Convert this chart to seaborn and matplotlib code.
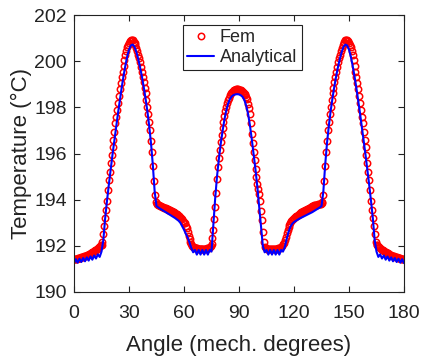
import numpy as np
import pandas as pd
import matplotlib
matplotlib.use("Agg")
import matplotlib.pyplot as plt
import seaborn as sns

# FEM temperature, sampled every 0.5 mechanical degree (0 .. 180)
fem_step = 0.5
fem_temp = [
    191.42, 191.43, 191.44, 191.45, 191.46, 191.47, 191.48, 191.49, 191.50, 191.51,
    191.53, 191.54, 191.56, 191.57, 191.59, 191.61, 191.63, 191.65, 191.67, 191.69,
    191.72, 191.75, 191.78, 191.81, 191.84, 191.87, 191.90, 191.94, 191.98, 192.02,
    192.05, 192.15, 192.50, 192.85, 193.20, 193.55, 193.95, 194.40, 194.85, 195.20,
    195.60, 195.95, 196.30, 196.60, 196.95, 197.30, 197.60, 197.90, 198.20, 198.50,
    198.80, 199.05, 199.30, 199.55, 199.80, 200.05, 200.25, 200.45, 200.60, 200.72,
    200.80, 200.87, 200.90, 200.92, 200.90, 200.85, 200.78, 200.68, 200.56, 200.43,
    200.28, 200.12, 199.95, 199.75, 199.55, 199.33, 199.10, 198.85, 198.60, 198.30,
    198.00, 197.70, 197.35, 197.00, 196.55, 196.05, 195.45, 194.80, 194.20, 193.90,
    193.82, 193.80, 193.78, 193.76, 193.74, 193.72, 193.70, 193.68, 193.66, 193.64,
    193.62, 193.60, 193.59, 193.57, 193.55, 193.54, 193.52, 193.50, 193.48, 193.46,
    193.43, 193.40, 193.37, 193.34, 193.31, 193.28, 193.24, 193.20, 193.15, 193.08,
    193.02, 192.97, 192.88, 192.76, 192.60, 192.44, 192.28, 192.15, 192.06, 192.00,
    191.96, 191.93, 191.91, 191.90, 191.89, 191.88, 191.88, 191.88, 191.88, 191.88,
    191.88, 191.88, 191.88, 191.88, 191.88, 191.89, 191.90, 191.92, 191.95, 192.00,
    192.08, 192.35, 192.70, 193.15, 193.70, 194.30, 194.90, 195.40, 195.80, 196.15,
    196.50, 196.82, 197.10, 197.38, 197.62, 197.85, 198.02, 198.18, 198.30, 198.42,
    198.52, 198.60, 198.66, 198.71, 198.74, 198.76, 198.77, 198.78, 198.78, 198.78,
    198.77, 198.76, 198.74, 198.72, 198.68, 198.64, 198.58, 198.52, 198.45, 198.35,
    198.15, 197.95, 197.70, 197.30, 196.85, 196.45, 196.05, 195.70, 195.35, 195.00,
    194.70, 194.45, 194.25, 193.95, 193.50, 193.10, 192.60, 192.15, 191.95, 191.90,
    191.88, 191.88, 191.88, 191.88, 191.88, 191.88, 191.88, 191.88, 191.88, 191.88,
    191.88, 191.88, 191.88, 191.89, 191.90, 191.92, 191.95, 192.00, 192.06, 192.14,
    192.25, 192.40, 192.54, 192.68, 192.80, 192.91, 192.99, 193.06, 193.12, 193.17,
    193.20, 193.24, 193.28, 193.31, 193.34, 193.37, 193.40, 193.43, 193.46, 193.48,
    193.50, 193.52, 193.55, 193.57, 193.59, 193.61, 193.63, 193.65, 193.67, 193.69,
    193.71, 193.73, 193.75, 193.77, 193.78, 193.79, 193.80, 193.81, 193.82, 193.83,
    193.85, 193.90, 194.20, 194.80, 195.45, 196.05, 196.55, 197.00, 197.35, 197.70,
    198.00, 198.30, 198.60, 198.85, 199.10, 199.33, 199.55, 199.75, 199.95, 200.12,
    200.28, 200.43, 200.56, 200.68, 200.78, 200.85, 200.90, 200.92, 200.90, 200.87,
    200.80, 200.72, 200.60, 200.45, 200.25, 200.05, 199.80, 199.55, 199.30, 199.05,
    198.80, 198.50, 198.20, 197.90, 197.60, 197.30, 196.95, 196.60, 196.30, 195.95,
    195.60, 195.20, 194.85, 194.40, 193.95, 193.55, 193.20, 192.85, 192.50, 192.15,
    192.05, 192.02, 191.98, 191.94, 191.90, 191.87, 191.84, 191.81, 191.78, 191.75,
    191.72, 191.69, 191.67, 191.65, 191.63, 191.61, 191.59, 191.57, 191.56, 191.54,
    191.53, 191.51, 191.50, 191.49, 191.48, 191.47, 191.46, 191.45, 191.44, 191.43,
    191.42,
]

# Analytical temperature, sampled every 1 mechanical degree (0 .. 180)
ana_step = 1.0
ana_temp = [
    191.25, 191.42, 191.27, 191.44, 191.30, 191.47, 191.33, 191.50, 191.36, 191.54,
    191.40, 191.58, 191.45, 191.63, 191.52, 191.75, 192.25, 193.20, 193.95, 194.65,
    195.30, 195.95, 196.55, 197.15, 197.75, 198.30, 198.85, 199.35, 199.80, 200.20,
    200.50, 200.68, 200.72, 200.62, 200.40, 200.10, 199.75, 199.35, 198.90, 198.40,
    197.85, 197.20, 196.45, 195.50, 194.35, 193.72, 193.66, 193.61, 193.56, 193.51,
    193.46, 193.41, 193.36, 193.31, 193.26, 193.21, 193.15, 193.09, 193.00, 192.85,
    192.70, 192.52, 192.36, 192.15, 191.90, 191.72, 191.82, 191.62, 191.82, 191.62,
    191.82, 191.62, 191.82, 191.62, 191.82, 191.75, 192.90, 194.05, 195.00, 195.75,
    196.40, 196.95, 197.45, 197.85, 198.15, 198.35, 198.47, 198.53, 198.56, 198.57,
    198.56, 198.52, 198.45, 198.30, 198.05, 197.70, 197.20, 196.60, 195.95, 195.30,
    194.55, 193.70, 192.80, 192.00, 191.72, 191.82, 191.62, 191.82, 191.62, 191.82,
    191.62, 191.82, 191.62, 191.82, 191.75, 191.95, 192.30, 192.60, 192.82, 192.95,
    193.03, 193.08, 193.13, 193.18, 193.22, 193.26, 193.30, 193.34, 193.38, 193.42,
    193.46, 193.51, 193.56, 193.61, 193.66, 193.72, 194.35, 195.50, 196.45, 197.20,
    197.85, 198.40, 198.90, 199.35, 199.75, 200.10, 200.40, 200.62, 200.72, 200.68,
    200.50, 200.20, 199.80, 199.35, 198.85, 198.30, 197.75, 197.15, 196.55, 195.95,
    195.30, 194.65, 193.95, 193.20, 192.25, 191.75, 191.52, 191.63, 191.45, 191.58,
    191.40, 191.54, 191.36, 191.50, 191.33, 191.47, 191.30, 191.44, 191.27, 191.42,
    191.25,
]

x_ticks = [0, 30, 60, 90, 120, 150, 180]
y_ticks = [190, 192, 194, 196, 198, 200, 202]

fem_df = pd.DataFrame({"angle": np.arange(len(fem_temp)) * fem_step, "temp": fem_temp})
ana_df = pd.DataFrame({"angle": np.arange(len(ana_temp)) * ana_step, "temp": ana_temp})

sns.set_style("ticks")
plt.rcParams["font.family"] = ["Liberation Sans", "DejaVu Sans"]

fig = plt.figure(figsize=(4.22, 3.58), dpi=100)
ax = fig.add_axes([74 / 422, 66 / 358, 330 / 422, 277 / 358])

sns.lineplot(data=fem_df, x="angle", y="temp", ax=ax, linestyle="none",
             marker="o", markersize=4.6, markerfacecolor="none",
             markeredgecolor="#ff0000", markeredgewidth=1.1, color="#ff0000",
             label="Fem", errorbar=None, sort=False)
sns.lineplot(data=ana_df, x="angle", y="temp", ax=ax, color="#0000ff",
             linewidth=1.5, label="Analytical", errorbar=None, sort=False)

ax.set_xlim(0, 180)
ax.set_ylim(190, 202)
ax.set_xticks(x_ticks)
ax.set_yticks(y_ticks)
ax.set_xlabel("Angle (mech. degrees)", fontsize=16, color="#222222", labelpad=9.5)
ax.set_ylabel("Temperature (°C)", fontsize=16, color="#222222", labelpad=2)
ax.tick_params(axis="both", direction="in", length=4, width=0.8,
               labelsize=14, colors="#222222", top=True, right=True, pad=5)
ax.tick_params(axis="x", pad=9)
for s in ax.spines.values():
    s.set_visible(True)
    s.set_linewidth(0.8)
    s.set_color("#222222")

leg = ax.legend(loc="upper left", bbox_to_anchor=(0.33, 0.965), borderaxespad=0,
                fontsize=13, frameon=True, fancybox=False, framealpha=1,
                edgecolor="#222222", handlelength=1.5, handletextpad=0.3,
                borderpad=0.25, labelspacing=0.15)
leg.get_frame().set_linewidth(0.8)

fig.savefig("out.png", dpi=100)
